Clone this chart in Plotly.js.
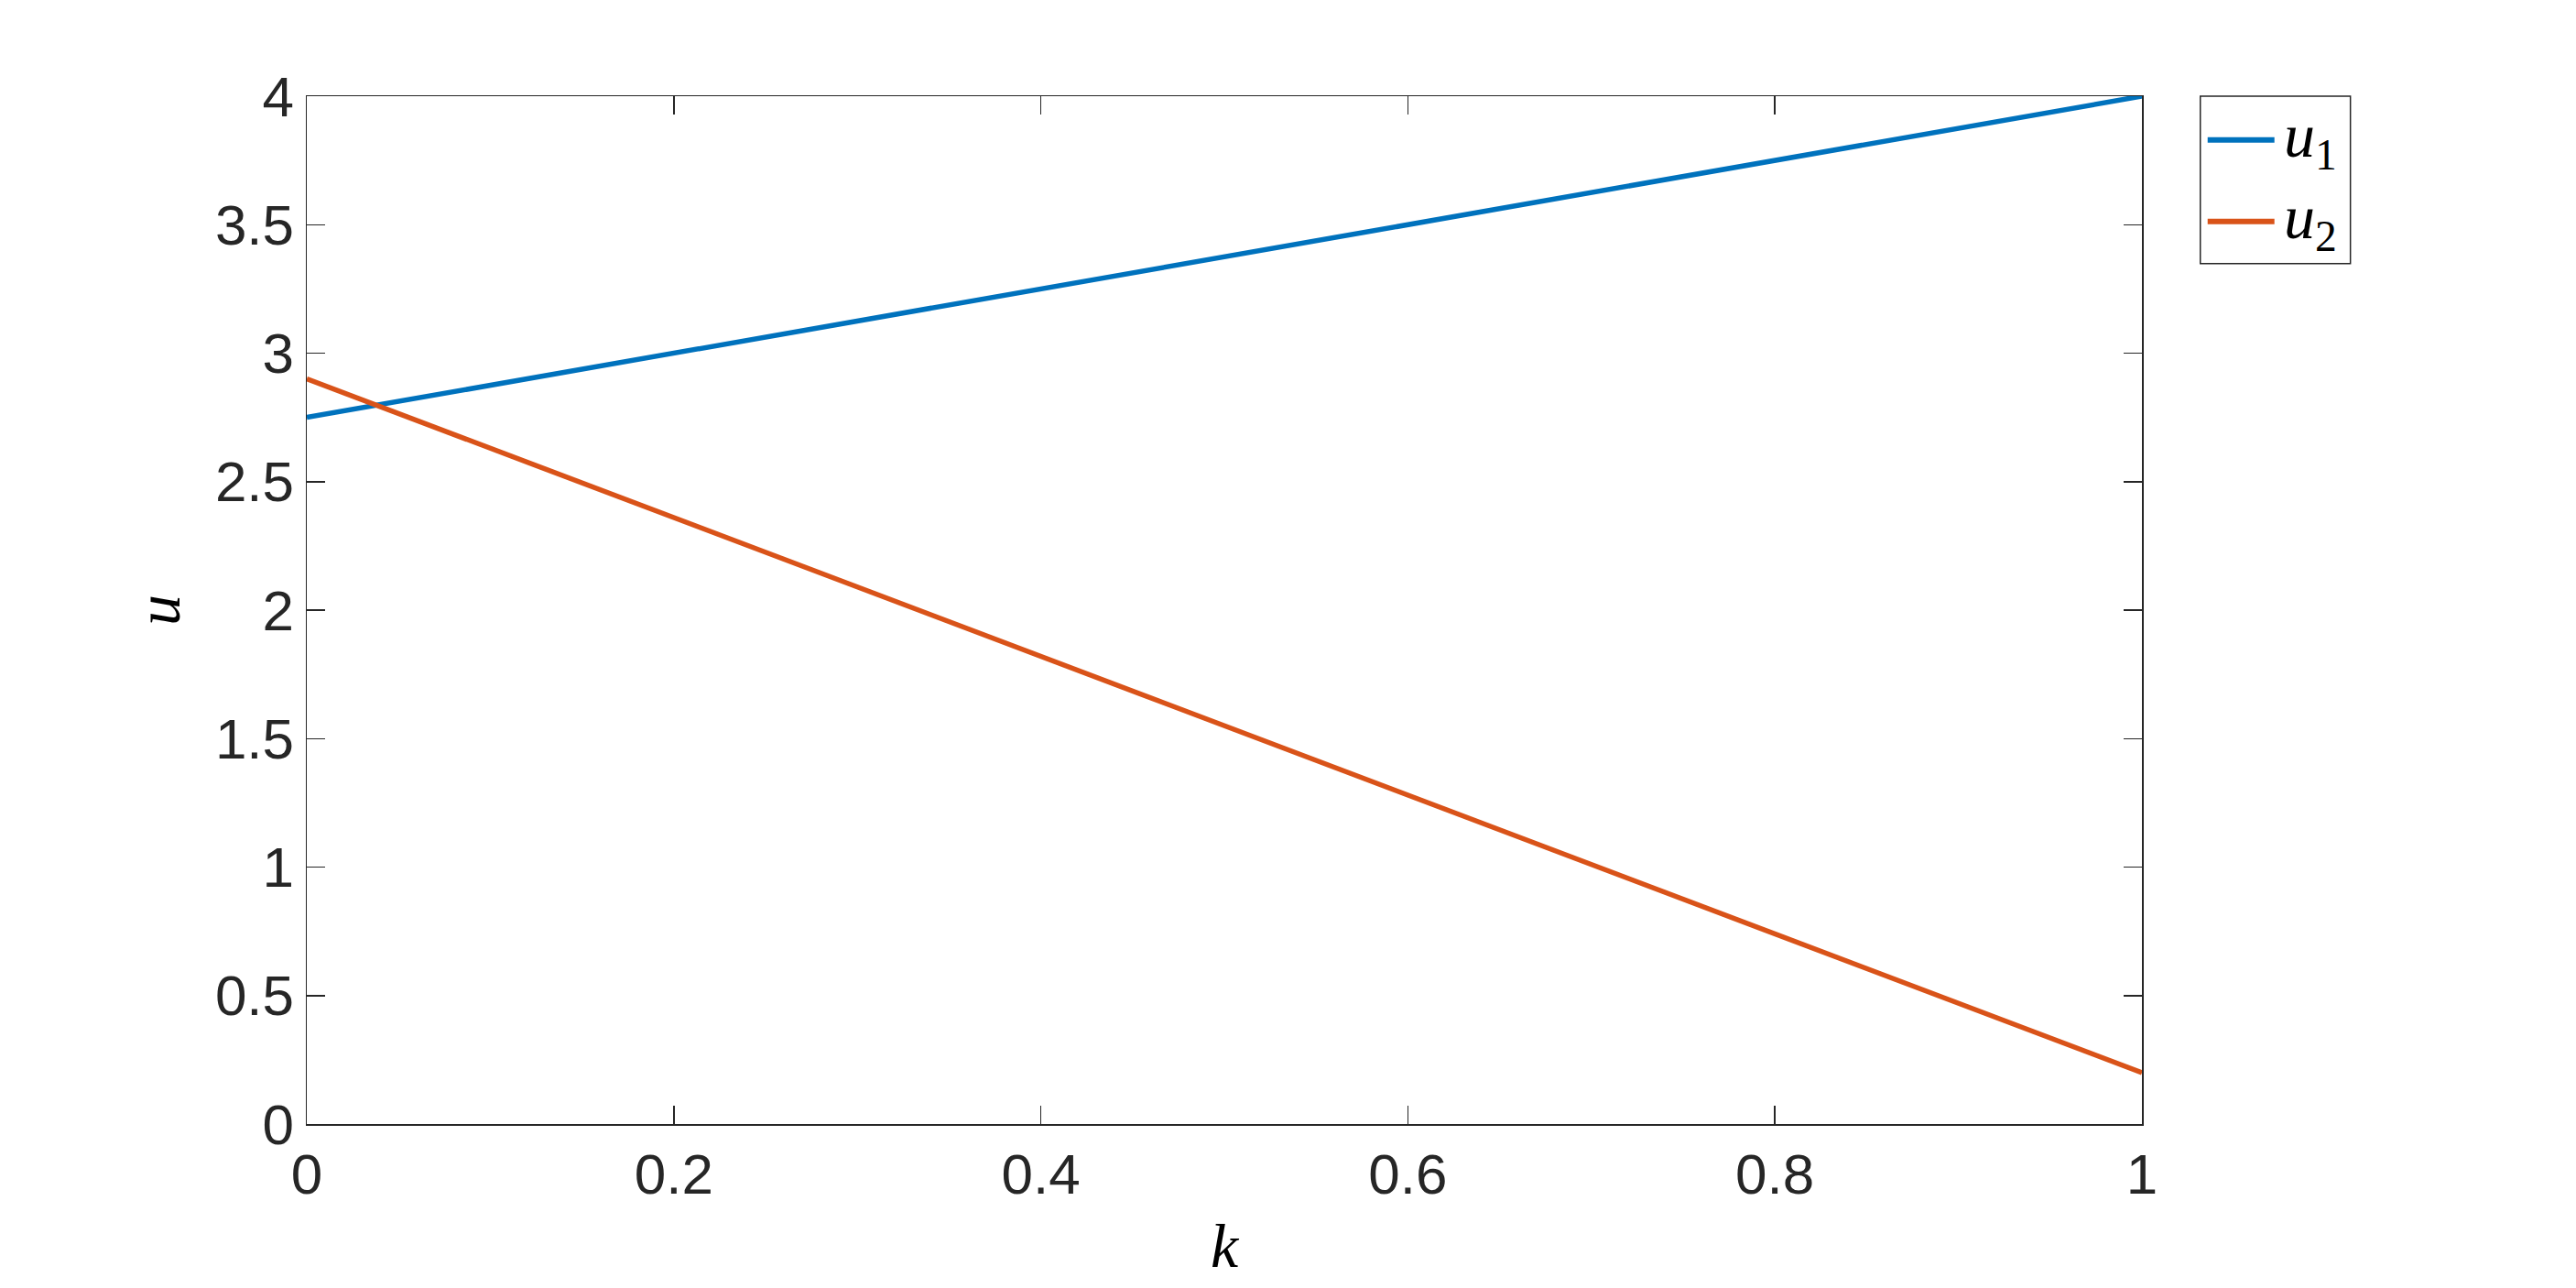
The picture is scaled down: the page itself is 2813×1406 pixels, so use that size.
<!DOCTYPE html>
<html>
<head>
<meta charset="utf-8">
<script src="https://cdn.plot.ly/plotly-3.0.1.min.js"></script>
<style>
html,body{margin:0;padding:0;background:#fff;}
#chart{width:2813px;height:1406px;}
</style>
</head>
<body>
<div id="chart"></div>
<script>
// Data
const k = [0, 0.2, 0.4, 0.6, 0.8, 1];
const u1 = [2.75, 3.0, 3.25, 3.5, 3.75, 4.0];
const u2 = [2.90, 2.36, 1.82, 1.28, 0.74, 0.20];
const seriesNames = ['<i>u</i><sub>1</sub>', '<i>u</i><sub>2</sub>'];
const seriesColors = ['#0072BD', '#D95319'];
const xTitle = '<i>k</i>';
const yTitle = '<i>u</i>';

const axisColor = '#262626';
const tickFont = {family: 'Liberation Sans, Arial, sans-serif', size: 62, color: axisColor};
const mathFont = {family: 'Liberation Serif, DejaVu Serif, serif', size: 68, color: '#000'};

const traces = [
  {x: k, y: u1, name: seriesNames[0], type: 'scatter', mode: 'lines',
   line: {color: seriesColors[0], width: 5.5}, showlegend: false},
  {x: k, y: u2, name: seriesNames[1], type: 'scatter', mode: 'lines',
   line: {color: seriesColors[1], width: 5.5}, showlegend: false}
];

// Legend drawn in paper coordinates (MATLAB-style box with long line samples)
const legX0 = 1.0318, legX1 = 1.1136, legY0 = 0.8372, legY1 = 1.0;
const lineX0 = 1.0358, lineX1 = 1.0722, textX = 1.0762;
const rowY = [0.9575, 0.8782];

const shapes = [
  {type: 'rect', xref: 'paper', yref: 'paper', x0: legX0, x1: legX1, y0: legY0, y1: legY1,
   line: {color: axisColor, width: 1.5}, fillcolor: '#fff'}
];
const annotations = [];
seriesNames.forEach((nm, i) => {
  shapes.push({type: 'line', xref: 'paper', yref: 'paper', x0: lineX0, x1: lineX1, y0: rowY[i], y1: rowY[i],
    line: {color: seriesColors[i], width: 6}});
  annotations.push({xref: 'paper', yref: 'paper', x: textX, y: rowY[i], xanchor: 'left', yanchor: 'middle',
    text: nm, showarrow: false, font: mathFont});
});

const layout = {
  width: 2813, height: 1406,
  paper_bgcolor: '#fff', plot_bgcolor: '#fff',
  margin: {l: 335, r: 474, t: 105, b: 179, pad: 0},
  showlegend: false,
  xaxis: {
    range: [0, 1], dtick: 0.2, tick0: 0,
    showgrid: false, zeroline: false,
    showline: true, linecolor: axisColor, linewidth: 1.5, mirror: 'ticks',
    ticks: 'inside', ticklen: 20, tickwidth: 1.5, tickcolor: axisColor,
    tickfont: tickFont,
    title: {text: xTitle, font: mathFont, standoff: 20}
  },
  yaxis: {
    range: [0, 4], dtick: 0.5, tick0: 0,
    showgrid: false, zeroline: false,
    showline: true, linecolor: axisColor, linewidth: 1.5, mirror: 'ticks',
    ticks: 'inside', ticklen: 20, tickwidth: 1.5, tickcolor: axisColor,
    tickfont: tickFont,
    title: {text: yTitle, font: mathFont, standoff: 16}
  },
  shapes: shapes,
  annotations: annotations
};

Plotly.newPlot('chart', traces, layout, {staticPlot: true});
</script>
</body>
</html>
